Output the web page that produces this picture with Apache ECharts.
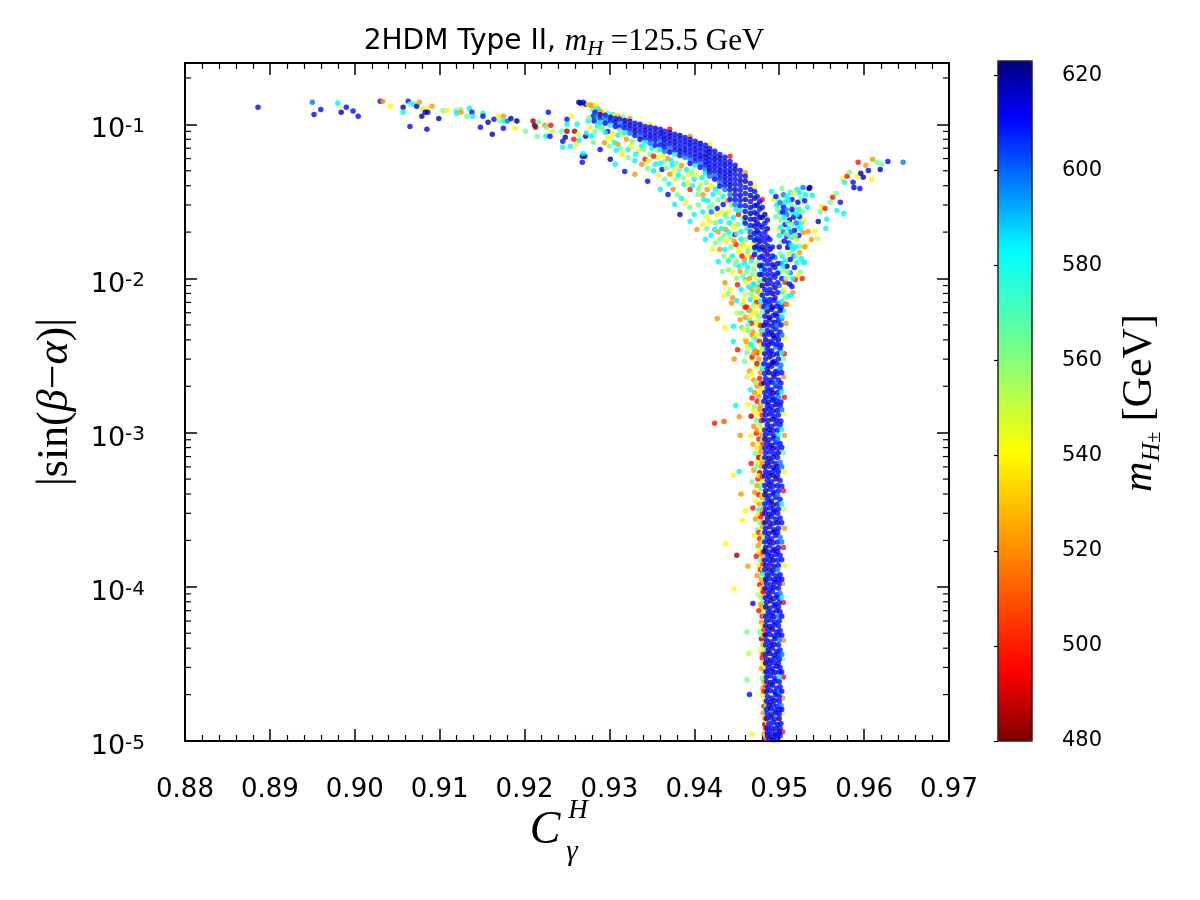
<!DOCTYPE html>
<html>
<head>
<meta charset="utf-8">
<title>2HDM Type II scan</title>
<script src="https://cdn.jsdelivr.net/npm/echarts@6/dist/echarts.min.js"></script>
<style>
  html, body { margin: 0; padding: 0; background: #fff; }
  #chart { width: 1200px; height: 900px; }
</style>
</head>
<body>
<div id="chart"></div>
<script>
// Scan points: [C_gamma^H, |sin(beta-alpha)|, m_H+- (GeV)].

// sparse tail on the upper left
const tailPts = [
  [0.8886,0.129,610],[0.8950,0.139,598],[0.8952,0.116,610],[0.8960,0.125,610],[0.8980,0.137,584],
  [0.8984,0.120,619],[0.8990,0.129,610],[0.8998,0.122,610],[0.9004,0.113,610],[0.9030,0.141,610],
  [0.9033,0.141,522],[0.9042,0.131,540],[0.9057,0.129,619],[0.9057,0.120,584],[0.9063,0.141,610],
  [0.9065,0.135,563],[0.9069,0.135,584],[0.9073,0.131,619],[0.9076,0.139,522],[0.9080,0.125,551],
  [0.9085,0.127,540],[0.9091,0.131,522],[0.9065,0.097,610],[0.9079,0.113,619],[0.9083,0.120,619],
  [0.9086,0.120,619],[0.9085,0.0928,610],[0.9099,0.109,619],[0.9104,0.123,563],[0.9109,0.123,540],
  [0.9119,0.123,563],[0.9120,0.118,584],[0.9125,0.125,563],[0.9125,0.120,522],[0.9132,0.113,563],
  [0.9135,0.127,584],[0.9138,0.120,610],[0.9139,0.113,584],[0.9148,0.0956,610],[0.9151,0.118,584],
  [0.9151,0.113,610],[0.9157,0.103,619],[0.9162,0.0861,619],[0.9164,0.108,610],[0.9169,0.113,540],
  [0.9171,0.105,563],[0.9175,0.113,522],[0.9175,0.0942,610],[0.9176,0.105,584],[0.9180,0.105,598],
  [0.9184,0.109,619],[0.9189,0.0942,540],[0.9190,0.106,563],[0.9191,0.105,619],[0.9201,0.0901,563],
  [0.9210,0.105,484],[0.9212,0.0985,619],[0.9213,0.0956,484],[0.9215,0.0836,563],[0.9216,0.103,563],
  [0.9224,0.0985,522],[0.9225,0.0836,584],[0.9226,0.0956,563],[0.9228,0.120,610],[0.9230,0.0836,610],
  [0.9231,0.0985,498],[0.9233,0.0901,551],[0.9244,0.0901,563],[0.9245,0.0776,610],[0.9245,0.0709,584],
  [0.9248,0.0824,619],[0.9250,0.0901,484],[0.9250,0.108,610],[0.9250,0.100,584],[0.9254,0.0720,584],
  [0.9255,0.113,540],[0.9258,0.0799,498],[0.9259,0.0901,484],[0.9261,0.0742,540],[0.9262,0.100,584],
  [0.9263,0.0861,551],[0.9264,0.0788,584],[0.9268,0.0620,619],[0.9271,0.0620,619],[0.9268,0.0567,610],
  [0.9269,0.0648,584],[0.9272,0.0836,619],[0.9275,0.105,584],[0.9279,0.0836,584],[0.9281,0.113,619],
  [0.9281,0.0764,563],
  [0.9264,0.139,619],[0.9266,0.137,619],[0.9269,0.139,610],[0.9272,0.135,619],[0.9275,0.135,540],
  [0.9278,0.133,522],[0.9281,0.131,522],[0.9284,0.133,540]
];

// mixed points round the start of the arch
const archTop = [
  [0.9280,0.124,563],[0.9286,0.126,584],[0.9292,0.120,540],[0.9298,0.118,563],[0.9304,0.116,584],
  [0.9310,0.113,522],[0.9316,0.111,563],[0.9286,0.098,584],[0.9292,0.094,563],[0.9298,0.090,610],
  [0.9304,0.087,540],[0.9310,0.085,584],[0.9276,0.110,563],[0.9282,0.105,610],[0.9288,0.100,584],
  [0.9277,0.095,540],[0.9283,0.090,563],[0.9273,0.088,584]
];

// mixed-colour band under the arch
const archInner = [
  [0.9289,0.0956,563],[0.9295,0.0887,584],[0.9303,0.0799,540],[0.9310,0.0742,522],[0.9315,0.0861,551],
  [0.9322,0.0688,584],[0.9327,0.0776,563],[0.9334,0.0668,540],[0.9338,0.0720,584],[0.9342,0.0593,498],
  [0.9348,0.0638,563],[0.9354,0.0550,584],[0.9357,0.0611,540],[0.9362,0.0510,610],[0.9365,0.0575,563],
  [0.9371,0.0474,522],[0.9374,0.0542,584],[0.9378,0.0440,551],[0.9383,0.0510,563],[0.9388,0.0408,584],
  [0.9393,0.0474,540],[0.9395,0.0378,498],[0.9400,0.0440,584],[0.9404,0.0351,563],[0.9407,0.0408,551],
  [0.9411,0.0326,584],[0.9415,0.0378,522],[0.9418,0.0289,563],[0.9422,0.0351,584],[0.9426,0.0260,540],
  [0.9428,0.0326,563],[0.9431,0.0234,584],[0.9434,0.0302,610],[0.9437,0.0208,522],[0.9440,0.0272,540],
  [0.9443,0.0185,563],[0.9446,0.0249,584],[0.9449,0.0166,498],[0.9451,0.0224,563],[0.9454,0.0154,540],
  [0.9455,0.0202,584],[0.9459,0.0133,522],[0.9461,0.0179,563],[0.9463,0.0118,584],[0.9464,0.0159,540],
  [0.9468,0.0106,563],[0.9468,0.0137,498],[0.9471,0.0091,584],[0.9473,0.0123,551],[0.9475,0.0082,522],
  [0.9475,0.0106,563],[0.9477,0.0096,584],[0.9478,0.0079,540],
  [0.9289,0.0688,610],[0.9301,0.0593,619],[0.9307,0.0550,584],[0.9318,0.0495,610],[0.9330,0.0474,522],
  [0.9345,0.0427,610],[0.9360,0.0378,584],[0.9369,0.0351,610],[0.9377,0.0302,584],[0.9383,0.0260,619],
  [0.9395,0.0234,584],[0.9403,0.0208,522],[0.9413,0.0179,584],[0.9421,0.0154,540],[0.9428,0.0129,584],
  [0.9433,0.0111,563],[0.9436,0.0094,522],[0.9442,0.0085,540],
  [0.9436,0.0154,584],[0.9442,0.0137,540],[0.9448,0.0123,563],[0.9454,0.0111,522],[0.9460,0.00985,584],
  [0.9448,0.0193,610],[0.9456,0.0166,563],[0.9463,0.0143,540],[0.9469,0.0193,584],[0.9474,0.0166,563],
  [0.9451,0.0091,498],[0.9460,0.0079,551],[0.9466,0.0073,584],[0.9440,0.0114,563],[0.9468,0.0085,522],
  [0.9474,0.0073,551],[0.9430,0.0179,563],[0.9424,0.0208,584],[0.9418,0.0234,540],[0.9444,0.0224,551],
  [0.9436,0.0260,563],[0.9459,0.0234,584],[0.9466,0.0281,563],[0.9471,0.0224,522],
  [0.9298,0.0820,540],[0.9306,0.0760,584],[0.9313,0.0700,563],[0.9320,0.0800,522],[0.9326,0.0720,540],
  [0.9331,0.0640,584],[0.9337,0.0780,551],[0.9341,0.0690,563],[0.9346,0.0580,540],[0.9350,0.0700,584],
  [0.9352,0.0620,498],[0.9357,0.0680,563],[0.9360,0.0560,584],[0.9363,0.0630,540],[0.9367,0.0520,563],
  [0.9369,0.0600,522],[0.9373,0.0580,584],[0.9376,0.0500,540],[0.9379,0.0560,563],[0.9381,0.0470,584],
  [0.9385,0.0540,522],[0.9387,0.0450,563],[0.9391,0.0510,584],[0.9392,0.0420,540],[0.9397,0.0490,563],
  [0.9398,0.0400,584],[0.9402,0.0470,540],[0.9405,0.0380,563],[0.9409,0.0450,584],[0.9410,0.0350,522],
  [0.9414,0.0420,563],[0.9416,0.0320,584],[0.9420,0.0400,540],[0.9421,0.0300,563],[0.9425,0.0380,584],
  [0.9427,0.0285,610],[0.9429,0.0360,563],[0.9432,0.0270,540],[0.9434,0.0340,584],[0.9438,0.0250,563],
  [0.9439,0.0320,522],[0.9441,0.0230,584],[0.9444,0.0300,563],[0.9447,0.0215,540],[0.9449,0.0280,584],
  [0.9450,0.0195,563],[0.9452,0.0260,498],[0.9455,0.0180,584],[0.9457,0.0245,563],[0.9458,0.0165,540],
  [0.9462,0.0210,584],[0.9463,0.0150,563],[0.9465,0.0195,522],[0.9467,0.0130,584],[0.9469,0.0170,540],
  [0.9470,0.0115,563],[0.9472,0.0150,584],[0.9473,0.0100,540],[0.9476,0.0130,563],[0.9476,0.0088,522],
  [0.9479,0.0115,584],[0.9479,0.0080,563],[0.9481,0.0100,540],
  [0.9405,0.0300,563],[0.9410,0.0270,584],[0.9415,0.0250,540],[0.9420,0.0270,598],[0.9425,0.0230,563],
  [0.9428,0.0200,522],[0.9432,0.0210,584],[0.9435,0.0190,563],[0.9438,0.0175,540],[0.9440,0.0200,584],
  [0.9443,0.0160,563],[0.9445,0.0140,584],[0.9447,0.0175,522],[0.9450,0.0130,563],[0.9452,0.0150,540],
  [0.9453,0.0120,584],[0.9456,0.0140,498],[0.9457,0.0105,563],[0.9459,0.0125,584],[0.9461,0.0095,540],
  [0.9462,0.0112,563],[0.9464,0.0088,584],[0.9465,0.0100,522],[0.9467,0.0080,563],[0.9469,0.0092,584],
  [0.9470,0.0076,540],[0.9472,0.0085,563],[0.9473,0.0070,498],[0.9455,0.0085,584],[0.9450,0.0100,563],
  [0.9445,0.0110,540],[0.9440,0.0130,584],[0.9435,0.0140,563],[0.9430,0.0155,522],[0.9425,0.0170,563],
  [0.9420,0.0190,584],[0.9415,0.0210,563],[0.9410,0.0225,540],[0.9400,0.0260,584],[0.9395,0.0290,563],
  [0.9390,0.0310,540],[0.9385,0.0330,584],[0.9380,0.0350,563],[0.9375,0.0380,522],[0.9370,0.0410,584],
  [0.9365,0.0440,563],[0.9358,0.0470,540],[0.9352,0.0500,584],[0.9345,0.0520,563],[0.9338,0.0550,522],
  [0.9330,0.0580,584],[0.9322,0.0610,563],[0.9315,0.0640,540],[0.9308,0.0680,584],[0.9300,0.0720,563],
  [0.9294,0.0760,522],
  [0.9440,0.0080,563],[0.9445,0.0075,522],[0.9450,0.0072,584],[0.9435,0.0078,540],[0.9458,0.0068,563],
  [0.9462,0.0065,498],[0.9466,0.0062,584],[0.9470,0.0060,540],[0.9455,0.0060,563],[0.9460,0.0056,522],
  [0.9465,0.0054,584],[0.9470,0.0052,563],[0.9474,0.0050,540],[0.9456,0.0048,584],[0.9463,0.0046,563],
  [0.9468,0.0043,522],[0.9473,0.0040,584],[0.9460,0.0040,540],[0.9465,0.0037,563],[0.9470,0.0035,584],
  [0.9475,0.0033,498],[0.9462,0.0033,563],[0.9468,0.0030,540],[0.9473,0.0028,584]
];

// thin orange/yellow rim on the outside of the arch
const archEdge = [
  [0.9289,0.122,522],[0.9307,0.114,540],[0.9324,0.109,522],[0.9348,0.100,540],[0.9371,0.0928,498],
  [0.9395,0.0836,522],[0.9418,0.0742,540],[0.9442,0.0620,498],[0.9460,0.0488,522],[0.9471,0.0396,540],
  [0.9480,0.0326,498]
];

// dense blue arch
const archCore = [
  [0.9283,0.120,610],[0.9283,0.113,598],
  [0.9289,0.116,619],[0.9289,0.109,610],[0.9289,0.103,584],
  [0.9295,0.1144,610],[0.9295,0.1078,598],[0.9295,0.1015,610],
  [0.9301,0.111,619],[0.9301,0.1046,610],[0.9301,0.0985,584],
  [0.9307,0.109,610],[0.9307,0.103,619],[0.9307,0.097,610],
  [0.9312,0.1078,610],[0.9312,0.1015,598],[0.9312,0.0956,610],[0.9312,0.0914,563],
  [0.9318,0.106,619],[0.9318,0.100,610],[0.9318,0.0942,610],[0.9318,0.0887,584],
  [0.9324,0.1046,610],[0.9324,0.0985,619],[0.9324,0.0928,610],[0.9324,0.0874,598],
  [0.9330,0.1015,610],[0.9330,0.0956,610],[0.9330,0.0901,619],[0.9330,0.0848,610],
  [0.9336,0.100,619],[0.9336,0.0942,610],[0.9336,0.0887,610],[0.9336,0.0836,598],[0.9336,0.0799,610],
  [0.9342,0.097,610],[0.9342,0.0914,619],[0.9342,0.0861,610],[0.9342,0.0811,610],[0.9342,0.0764,584],
  [0.9348,0.0956,610],[0.9348,0.0901,610],[0.9348,0.0848,619],[0.9348,0.0799,610],[0.9348,0.0753,598],
  [0.9354,0.0942,619],[0.9354,0.0887,610],[0.9354,0.0836,610],[0.9354,0.0788,610],[0.9354,0.0731,610],
  [0.9360,0.0928,610],[0.9360,0.0874,619],[0.9360,0.0823,610],[0.9360,0.0776,598],[0.9360,0.0731,610],[0.9360,0.0688,584],
  [0.9365,0.0901,610],[0.9365,0.0848,610],[0.9365,0.0799,619],[0.9365,0.0753,610],[0.9365,0.0709,610],[0.9365,0.0668,598],
  [0.9371,0.0887,610],[0.9371,0.0836,619],[0.9371,0.0788,610],[0.9371,0.0742,610],[0.9371,0.0698,598],[0.9371,0.0658,610],
  [0.9377,0.0861,610],[0.9377,0.0811,610],[0.9377,0.0764,619],[0.9377,0.0720,610],[0.9377,0.0678,610],[0.9377,0.0638,584],
  [0.9383,0.0848,619],[0.9383,0.0799,610],[0.9383,0.0753,610],[0.9383,0.0709,610],[0.9383,0.0668,619],[0.9383,0.0629,610],
  [0.9389,0.0823,610],[0.9389,0.0776,610],[0.9389,0.0731,610],[0.9389,0.0688,619],[0.9389,0.0648,610],[0.9389,0.0611,598],
  [0.9395,0.0799,610],[0.9395,0.0753,619],[0.9395,0.0709,610],[0.9395,0.0668,610],[0.9395,0.0629,610],[0.9395,0.0593,598],[0.9395,0.0558,610],
  [0.9401,0.0776,610],[0.9401,0.0731,610],[0.9401,0.0688,619],[0.9401,0.0648,610],[0.9401,0.0611,610],[0.9401,0.0575,610],[0.9401,0.0542,584],
  [0.9407,0.0753,619],[0.9407,0.0709,610],[0.9407,0.0668,610],[0.9407,0.0629,619],[0.9407,0.0593,610],[0.9407,0.0558,598],[0.9407,0.0526,610],
  [0.9413,0.0731,610],[0.9413,0.0688,610],[0.9413,0.0648,610],[0.9413,0.0611,619],[0.9413,0.0575,610],[0.9413,0.0542,610],[0.9413,0.0510,598],[0.9413,0.0481,584],
  [0.9418,0.0698,610],[0.9418,0.0658,619],[0.9418,0.0620,610],[0.9418,0.0584,610],[0.9418,0.0550,610],[0.9418,0.0518,619],[0.9418,0.0488,610],[0.9418,0.0460,598],
  [0.9424,0.0668,610],[0.9424,0.0629,610],[0.9424,0.0593,619],[0.9424,0.0558,610],[0.9424,0.0526,610],[0.9424,0.0495,610],[0.9424,0.0466,598],[0.9424,0.0440,610],
  [0.9430,0.0638,610],[0.9430,0.0602,619],[0.9430,0.0567,610],[0.9430,0.0534,610],[0.9430,0.0502,619],[0.9430,0.0474,610],[0.9430,0.0446,610],[0.9430,0.0421,598],[0.9430,0.0396,610],
  [0.9436,0.0611,610],[0.9436,0.0575,610],[0.9436,0.0542,619],[0.9436,0.0510,610],[0.9436,0.0481,610],[0.9436,0.0453,619],[0.9436,0.0427,610],[0.9436,0.0402,610],[0.9436,0.0378,598],
  [0.9442,0.0575,610],[0.9442,0.0542,610],[0.9442,0.0510,610],[0.9442,0.0481,619],[0.9442,0.0453,610],[0.9442,0.0427,610],[0.9442,0.0402,619],[0.9442,0.0378,610],[0.9442,0.0351,598],[0.9442,0.0326,610],
  [0.9448,0.0542,610],[0.9448,0.0510,619],[0.9448,0.0474,610],[0.9448,0.0440,610],[0.9448,0.0408,610],[0.9448,0.0378,619],[0.9448,0.0351,610],[0.9448,0.0326,610],[0.9448,0.0302,598],
  [0.9454,0.0502,610],[0.9454,0.0466,610],[0.9454,0.0433,619],[0.9454,0.0402,610],[0.9454,0.0373,610],[0.9454,0.0346,619],[0.9454,0.0321,610],[0.9454,0.0297,610],[0.9454,0.0276,584],
  [0.9460,0.0460,610],[0.9460,0.0427,619],[0.9460,0.0390,610],[0.9460,0.0356,610],[0.9460,0.0326,619],[0.9460,0.0297,610],[0.9460,0.0272,610],[0.9460,0.0249,619],[0.9460,0.0228,610],
  [0.9466,0.0414,610],[0.9466,0.0378,610],[0.9466,0.0346,619],[0.9466,0.0316,610],[0.9466,0.0289,610],[0.9466,0.0264,619],[0.9466,0.0242,610],[0.9466,0.0221,610],[0.9466,0.0202,598],[0.9466,0.0185,610],
  [0.9471,0.0367,610],[0.9471,0.0331,619],[0.9471,0.0297,610],[0.9471,0.0268,610],[0.9471,0.0242,619],[0.9471,0.0218,610],[0.9471,0.0196,610],[0.9471,0.0177,610],[0.9471,0.0159,619],[0.9471,0.0143,610],
  [0.9477,0.0316,610],[0.9477,0.0281,610],[0.9477,0.0249,619],[0.9477,0.0221,610],[0.9477,0.0196,610],[0.9477,0.0174,619],[0.9477,0.0154,610],[0.9477,0.0137,610],[0.9477,0.0121,619],[0.9477,0.0106,610],
  [0.9483,0.0260,619],[0.9483,0.0228,610],[0.9483,0.0199,610],[0.9483,0.0174,610],[0.9483,0.0152,619],[0.9483,0.0133,610],[0.9483,0.0114,610],[0.9483,0.00985,619],[0.9483,0.00848,610],[0.9483,0.00731,610],
  [0.9489,0.0179,610],[0.9489,0.0154,619],[0.9489,0.0133,610],[0.9489,0.0114,610],[0.9489,0.00985,619],[0.9489,0.00848,610],[0.9489,0.00731,610],
  [0.9495,0.0137,598],[0.9495,0.0118,610],[0.9495,0.0102,610],[0.9495,0.0087,619],[0.9495,0.0075,610],
  [0.9486,0.0240,610],[0.9486,0.0210,619],[0.9486,0.0185,610],[0.9486,0.0163,610],[0.9486,0.0143,619],
  [0.9486,0.0124,610],[0.9486,0.0106,610],[0.9486,0.0092,619],[0.9486,0.0080,610],
  [0.9492,0.0160,610],[0.9492,0.0140,610],[0.9492,0.0123,619],[0.9492,0.0106,610],[0.9492,0.0092,610],[0.9492,0.0080,619],
  [0.9498,0.0125,610],[0.9498,0.0108,619],[0.9498,0.0094,610],[0.9498,0.0081,610],
  [0.9480,0.0290,610],[0.9480,0.0250,619],[0.9480,0.0215,610],[0.9480,0.0185,610],[0.9480,0.0160,619],
  [0.9480,0.0140,610],[0.9480,0.0122,610],[0.9480,0.0106,610],[0.9480,0.0090,619],[0.9480,0.0078,610],
  [0.9474,0.0340,610],[0.9474,0.0300,619],[0.9474,0.0262,610],[0.9474,0.0230,610],[0.9474,0.0205,619],
  [0.9474,0.0182,610],[0.9474,0.0162,610]
];

// lobe on the right of the column top
const rightLobe = [
  [0.9491,0.0367,584],[0.9503,0.0384,563],[0.9513,0.0362,584],[0.9521,0.0378,584],[0.9528,0.0390,598],
  [0.9535,0.0384,619],[0.9493,0.0326,540],[0.9499,0.0326,563],[0.9507,0.0312,584],[0.9515,0.0326,610],
  [0.9522,0.0312,619],[0.9501,0.0268,584],[0.9509,0.0260,598],[0.9516,0.0268,584],[0.9524,0.0252,610],
  [0.9507,0.0224,610],[0.9515,0.0224,563],[0.9522,0.0218,584],[0.9509,0.0188,610],[0.9515,0.0185,584],
  [0.9521,0.0179,551],[0.9510,0.0159,619],[0.9516,0.0154,584],[0.9524,0.0147,522],[0.9513,0.0133,610],
  [0.9521,0.0127,584],[0.9528,0.0127,584],[0.9513,0.0109,598],[0.9519,0.00985,498],[0.9515,0.00886,610],
  [0.9510,0.00763,584],[0.9516,0.00812,522],[0.9530,0.0127,584],[0.9524,0.0162,563],[0.9528,0.0199,522],
  [0.9496,0.0252,563],[0.9499,0.0208,540],[0.9503,0.0171,563],[0.9504,0.0139,584],[0.9506,0.0114,551],
  [0.9507,0.00941,498],[0.9505,0.0290,610],[0.9512,0.0240,619],[0.9518,0.0205,610],[0.9505,0.0200,598],
  [0.9511,0.0170,610],[0.9517,0.0140,598],[0.9509,0.0120,619],[0.9505,0.0350,598],[0.9518,0.0290,563],
  [0.9526,0.0230,584],[0.9500,0.0160,610],[0.9502,0.0125,598],[0.9503,0.0100,610],[0.9504,0.0082,584],
  [0.9497,0.0300,584],[0.9502,0.0240,563],[0.9508,0.0280,598],[0.9511,0.0210,584],[0.9514,0.0300,563],
  [0.9517,0.0250,610],[0.9520,0.0230,598],[0.9523,0.0280,584],[0.9526,0.0330,563],[0.9531,0.0350,584],
  [0.9500,0.0190,584],[0.9506,0.0175,610],[0.9512,0.0190,563],[0.9519,0.0160,584],[0.9523,0.0190,610],
  [0.9501,0.0145,563],[0.9507,0.0130,584],[0.9512,0.0145,551],[0.9518,0.0118,610],[0.9525,0.0110,563],
  [0.9500,0.0110,584],[0.9508,0.0100,563],[0.9512,0.0092,610],[0.9506,0.0085,540],[0.9500,0.0090,598],
  [0.9509,0.0340,584],[0.9517,0.0360,540],[0.9524,0.0360,584],[0.9530,0.0160,522],[0.9527,0.0100,498],
  [0.9496,0.0340,610],[0.9501,0.0310,598],[0.9506,0.0250,584],[0.9510,0.0230,563],[0.9514,0.0200,598],
  [0.9519,0.0190,563],[0.9525,0.0210,584],[0.9529,0.0240,540],[0.9533,0.0290,584],[0.9530,0.0320,610],
  [0.9527,0.0270,563],[0.9521,0.0260,584],[0.9515,0.0280,610],[0.9511,0.0320,584],[0.9504,0.0270,610],
  [0.9498,0.0280,563],[0.9502,0.0215,584],[0.9508,0.0195,563],[0.9514,0.0165,584],[0.9520,0.0140,563],
  [0.9526,0.0135,584],[0.9522,0.0105,540],[0.9516,0.0100,584],[0.9510,0.0110,563],[0.9504,0.0120,584],
  [0.9507,0.0075,563],[0.9514,0.0078,584],[0.9509,0.0068,522],[0.9505,0.0062,584]
];

// branch rising to the right
const rightBranch = [
  [0.9534,0.0202,522],[0.9542,0.0202,540],[0.9545,0.0181,551],[0.9546,0.0234,619],[0.9550,0.0293,540],
  [0.9554,0.0285,498],[0.9555,0.0211,584],[0.9556,0.0242,584],[0.9560,0.0312,563],[0.9563,0.0336,498],
  [0.9567,0.0356,563],[0.9568,0.0276,584],[0.9572,0.0312,610],[0.9576,0.0264,584],[0.9575,0.0440,540],
  [0.9577,0.0421,584],[0.9580,0.0460,498],[0.9583,0.0488,563],[0.9587,0.0421,610],[0.9588,0.0390,619],
  [0.9592,0.0460,540],[0.9593,0.0567,498],[0.9595,0.0384,610],[0.9596,0.0481,619],[0.9599,0.0453,619],
  [0.9602,0.0542,522],[0.9605,0.0502,610],[0.9609,0.0440,540],[0.9610,0.0593,522],[0.9615,0.0567,563],
  [0.9619,0.0510,619],[0.9621,0.0550,563],[0.9628,0.0575,610],[0.9646,0.0567,598],[0.9536,0.0390,619],
  [0.9539,0.0346,584],[0.9532,0.0164,540],[0.9538,0.0179,522],[0.9548,0.0272,563]
];

// mixed points on the left/right of the vertical column
const colFringe = [
  [0.9444,6.9e-3,522],[0.9458,7.2e-3,540],[0.9470,6.7e-3,563],[0.9478,7.1e-3,584],[0.9507,6.8e-3,498],
  [0.9450,6.0e-3,551],[0.9464,6.2e-3,522],[0.9473,5.9e-3,540],[0.9480,6.1e-3,563],
  [0.9454,5.4e-3,522],[0.9467,5.1e-3,498],[0.9476,5.3e-3,551],[0.9508,5.1e-3,522],
  [0.9458,4.7e-3,540],[0.9469,4.5e-3,522],[0.9479,4.6e-3,584],
  [0.9461,3.9e-3,522],[0.9470,4.1e-3,563],[0.9477,3.9e-3,498],[0.9506,4.1e-3,540],
  [0.9463,3.6e-3,540],[0.9472,3.4e-3,522],[0.9480,3.5e-3,563],
  [0.9459,2.9e-3,563],[0.9468,3.1e-3,498],[0.9476,3.0e-3,522],[0.9505,3.0e-3,563],
  [0.9465,2.5e-3,522],[0.9473,2.7e-3,540],[0.9480,2.6e-3,584],
  [0.9462,2.3e-3,551],[0.9470,2.2e-3,522],[0.9477,2.25e-3,498],[0.9505,2.3e-3,522],
  [0.9466,1.9e-3,584],[0.9474,2.0e-3,522],[0.9480,1.95e-3,540],
  [0.9468,1.68e-3,498],[0.9476,1.72e-3,522],[0.9506,1.7e-3,498],
  [0.9463,1.52e-3,540],[0.9471,1.48e-3,563],[0.9478,1.5e-3,522],
  [0.9467,1.28e-3,484],[0.9474,1.32e-3,540],[0.9480,1.3e-3,498],[0.9505,1.32e-3,540],
  [0.9470,1.1e-3,522],[0.9477,1.14e-3,563],
  [0.9466,9.6e-4,540],[0.9473,9.9e-4,498],[0.9480,9.7e-4,522],[0.9506,9.6e-4,522],
  [0.9469,8.4e-4,522],[0.9476,8.6e-4,551],[0.9481,8.5e-4,498],
  [0.9472,7.3e-4,563],[0.9478,7.5e-4,522],[0.9505,7.4e-4,563],
  [0.9467,6.3e-4,498],[0.9474,6.5e-4,540],[0.9480,6.4e-4,522],
  [0.9470,5.7e-4,522],[0.9477,5.5e-4,484],[0.9506,5.6e-4,540],
  [0.9468,4.8e-4,563],[0.9475,5.0e-4,498],[0.9481,4.9e-4,540],
  [0.9471,4.1e-4,522],[0.9478,4.3e-4,563],[0.9505,4.2e-4,498],
  [0.9473,3.6e-4,540],[0.9480,3.8e-4,522],
  [0.9469,3.25e-4,498],[0.9476,3.15e-4,584],[0.9481,3.2e-4,522],[0.9505,3.2e-4,551],
  [0.9472,2.75e-4,522],[0.9478,2.85e-4,498],
  [0.9474,2.35e-4,563],[0.9480,2.45e-4,522],[0.9506,2.4e-4,522],
  [0.9471,2.15e-4,540],[0.9477,2.05e-4,498],[0.9482,2.1e-4,551],
  [0.9475,1.85e-4,522],[0.9480,1.75e-4,563],[0.9505,1.8e-4,498],
  [0.9473,1.58e-4,498],[0.9479,1.62e-4,522],
  [0.9476,1.36e-4,540],[0.9481,1.4e-4,498],[0.9506,1.38e-4,540],
  [0.9474,1.18e-4,522],[0.9480,1.22e-4,584],
  [0.9477,1.03e-4,498],[0.9482,1.07e-4,522],[0.9504,1.05e-4,522],
  [0.9475,8.9e-5,551],[0.9481,9.3e-5,484],
  [0.9478,7.7e-5,522],[0.9482,8.1e-5,563],[0.9505,7.9e-5,498],
  [0.9476,7.0e-5,498],[0.9482,6.8e-5,540],
  [0.9479,5.9e-5,522],[0.9504,6.1e-5,540],
  [0.9477,5.1e-5,563],[0.9482,5.3e-5,498],
  [0.9479,4.6e-5,484],[0.9483,4.4e-5,522],[0.9505,4.5e-5,522],
  [0.9478,3.8e-5,540],[0.9483,4.0e-5,563],
  [0.9480,3.45e-5,498],[0.9504,3.4e-5,563],
  [0.9479,2.95e-5,522],[0.9483,3.05e-5,540],
  [0.9480,2.55e-5,563],[0.9505,2.6e-5,498],
  [0.9481,2.2e-5,522],[0.9484,2.3e-5,498],
  [0.9480,2.0e-5,540],[0.9504,1.9e-5,522],
  [0.9482,1.68e-5,498],[0.9485,1.72e-5,563],
  [0.9481,1.52e-5,522],[0.9504,1.5e-5,540],
  [0.9483,1.28e-5,484],[0.9486,1.32e-5,540],
  [0.9482,1.11e-5,522],[0.9504,1.15e-5,498],
  [0.9484,1.04e-5,498],
  [0.9472,6.55e-3,540],[0.9479,6.6e-3,522],[0.9460,6.5e-3,498],[0.9476,5.7e-3,563],[0.9466,5.65e-3,540],
  [0.9478,4.95e-3,498],[0.9463,5.0e-3,563],[0.9474,4.3e-3,540],[0.9480,4.35e-3,522],[0.9467,3.75e-3,584],
  [0.9478,3.7e-3,540],[0.9470,3.25e-3,522],[0.9479,3.3e-3,551],[0.9506,3.25e-3,498],[0.9474,2.8e-3,498],
  [0.9479,2.75e-3,563],[0.9468,2.42e-3,540],[0.9478,2.45e-3,522],[0.9473,2.1e-3,563],[0.9479,2.08e-3,498],
  [0.9471,1.82e-3,522],[0.9478,1.85e-3,540],[0.9474,1.6e-3,498],[0.9479,1.58e-3,563],[0.9470,1.4e-3,540],
  [0.9477,1.42e-3,522],[0.9473,1.21e-3,563],[0.9479,1.2e-3,498],[0.9474,1.04e-3,522],[0.9479,1.05e-3,540],
  [0.9476,9.1e-4,498],[0.9480,9.0e-4,563],[0.9473,7.95e-4,540],[0.9479,8.0e-4,522],[0.9476,6.9e-4,484],
  [0.9480,6.85e-4,540],[0.9473,6.0e-4,563],[0.9479,6.05e-4,522],[0.9476,5.25e-4,540],[0.9480,5.2e-4,498],
  [0.9474,4.55e-4,522],[0.9479,4.6e-4,563],[0.9476,3.95e-4,498],[0.9480,3.9e-4,540],[0.9477,3.45e-4,522],
  [0.9480,3.5e-4,563],[0.9475,3.0e-4,540],[0.9480,2.97e-4,498],[0.9477,2.6e-4,563],[0.9481,2.62e-4,522],
  [0.9476,2.25e-4,498],[0.9480,2.23e-4,540],[0.9478,1.95e-4,522],[0.9481,1.97e-4,563],[0.9477,1.7e-4,540],
  [0.9481,1.68e-4,498],[0.9478,1.49e-4,563],[0.9481,1.5e-4,522],[0.9478,1.29e-4,498],[0.9481,1.3e-4,540],
  [0.9479,1.12e-4,522],[0.9482,1.13e-4,563],[0.9479,9.8e-5,540],[0.9482,9.7e-5,498],[0.9479,8.5e-5,563],
  [0.9482,8.6e-5,522],[0.9480,7.4e-5,522],[0.9482,7.3e-5,540],[0.9480,6.45e-5,498],[0.9483,6.5e-5,563],
  [0.9480,5.6e-5,540],[0.9483,5.55e-5,522],[0.9480,4.85e-5,563],[0.9483,4.9e-5,498],[0.9481,4.2e-5,522],
  [0.9483,4.15e-5,540],[0.9481,3.65e-5,498],[0.9484,3.7e-5,563],[0.9481,3.2e-5,540],[0.9484,3.18e-5,522],
  [0.9482,2.8e-5,563],[0.9484,2.82e-5,498],[0.9482,2.42e-5,522],[0.9484,2.4e-5,540],[0.9482,2.1e-5,498],
  [0.9485,2.12e-5,563],[0.9483,1.82e-5,540],[0.9485,1.8e-5,522],[0.9483,1.6e-5,563],[0.9483,1.4e-5,522],
  [0.9484,1.21e-5,498],[0.9484,1.08e-5,540]
];

// stray points left of the column
const colOutliers = [
  [0.9427,5.5e-3,522],[0.9436,4.8e-3,540],[0.9446,4.9e-3,584],[0.9446,3.9e-3,584],[0.9451,3.45e-3,498],
  [0.9447,3.0e-3,522],[0.9424,1.15e-3,498],[0.9435,1.18e-3,510],[0.9449,1.5e-3,584],[0.9453,1.27e-3,522],
  [0.9454,9.6e-4,522],[0.9446,5.3e-4,540],[0.9453,5.6e-4,584],[0.9455,4.0e-4,522],[0.9460,3.1e-4,540],
  [0.9457,2.7e-4,540],[0.9437,1.9e-4,540],[0.9450,1.6e-4,484],[0.9463,1.36e-4,522],[0.9447,9.7e-5,540],
  [0.9469,7.8e-5,610],[0.9462,5.1e-5,563],[0.9464,3.7e-5,551],[0.9462,2.5e-5,563],[0.9465,2.0e-5,610],
  [0.9468,1.1e-5,540]
];

// blue core of the vertical column
const colCore = [
  [0.9484,7.0e-3,610],[0.9489,6.8e-3,619],[0.9494,7.2e-3,610],[0.9499,6.9e-3,598],[0.9503,7.1e-3,584],
  [0.9486,6.1e-3,619],[0.9491,6.3e-3,610],[0.9496,5.9e-3,610],[0.9501,6.2e-3,619],
  [0.9484,5.2e-3,610],[0.9489,5.4e-3,610],[0.9494,5.2e-3,619],[0.9499,5.3e-3,610],[0.9503,5.5e-3,598],
  [0.9486,4.6e-3,610],[0.9491,4.5e-3,619],[0.9496,4.7e-3,610],[0.9501,4.5e-3,610],
  [0.9484,4.0e-3,619],[0.9489,3.9e-3,610],[0.9494,4.1e-3,610],[0.9499,4.0e-3,619],
  [0.9486,3.5e-3,610],[0.9491,3.4e-3,610],[0.9496,3.6e-3,598],[0.9501,3.5e-3,610],
  [0.9484,3.0e-3,610],[0.9489,3.1e-3,619],[0.9494,2.9e-3,610],[0.9499,3.0e-3,610],
  [0.9486,2.6e-3,619],[0.9491,2.7e-3,610],[0.9496,2.5e-3,610],[0.9501,2.6e-3,598],
  [0.9484,2.25e-3,610],[0.9489,2.2e-3,610],[0.9494,2.3e-3,619],[0.9499,2.2e-3,610],
  [0.9486,1.95e-3,610],[0.9491,1.9e-3,619],[0.9496,2.0e-3,610],[0.9501,1.95e-3,610],
  [0.9484,1.7e-3,619],[0.9489,1.72e-3,610],[0.9494,1.66e-3,610],[0.9499,1.7e-3,598],
  [0.9486,1.5e-3,610],[0.9491,1.48e-3,610],[0.9496,1.52e-3,619],[0.9501,1.5e-3,610],
  [0.9484,1.3e-3,610],[0.9489,1.32e-3,619],[0.9494,1.28e-3,610],[0.9499,1.3e-3,610],
  [0.9486,1.12e-3,619],[0.9491,1.1e-3,610],[0.9496,1.14e-3,610],[0.9501,1.12e-3,610],
  [0.9484,9.7e-4,610],[0.9489,9.9e-4,610],[0.9494,9.5e-4,619],[0.9499,9.7e-4,584],
  [0.9486,8.5e-4,610],[0.9491,8.3e-4,619],[0.9496,8.6e-4,610],[0.9501,8.5e-4,610],
  [0.9484,7.4e-4,610],[0.9489,7.5e-4,610],[0.9494,7.3e-4,610],[0.9499,7.4e-4,619],
  [0.9486,6.4e-4,619],[0.9491,6.5e-4,610],[0.9496,6.3e-4,610],[0.9501,6.4e-4,598],
  [0.9484,5.6e-4,610],[0.9489,5.5e-4,619],[0.9494,5.7e-4,610],[0.9499,5.6e-4,610],
  [0.9486,4.9e-4,610],[0.9491,4.8e-4,610],[0.9496,5.0e-4,619],[0.9501,4.9e-4,610],
  [0.9484,4.2e-4,619],[0.9489,4.3e-4,610],[0.9494,4.1e-4,610],[0.9499,4.2e-4,610],
  [0.9486,3.7e-4,610],[0.9491,3.6e-4,619],[0.9496,3.8e-4,610],[0.9501,3.7e-4,610],
  [0.9484,3.2e-4,610],[0.9489,3.25e-4,610],[0.9494,3.15e-4,619],[0.9499,3.2e-4,610],
  [0.9486,2.8e-4,619],[0.9491,2.85e-4,610],[0.9496,2.75e-4,610],[0.9501,2.8e-4,610],
  [0.9484,2.4e-4,610],[0.9489,2.45e-4,619],[0.9494,2.35e-4,610],[0.9499,2.4e-4,610],
  [0.9486,2.1e-4,610],[0.9491,2.05e-4,610],[0.9496,2.15e-4,619],[0.9501,2.1e-4,598],
  [0.9484,1.8e-4,619],[0.9489,1.85e-4,610],[0.9494,1.75e-4,610],[0.9499,1.8e-4,610],
  [0.9486,1.6e-4,610],[0.9491,1.58e-4,619],[0.9496,1.62e-4,610],[0.9501,1.6e-4,610],
  [0.9484,1.38e-4,610],[0.9489,1.4e-4,610],[0.9494,1.36e-4,619],[0.9499,1.38e-4,610],
  [0.9486,1.2e-4,619],[0.9491,1.22e-4,610],[0.9496,1.18e-4,610],[0.9501,1.2e-4,610],
  [0.9485,1.05e-4,610],[0.9490,1.03e-4,610],[0.9495,1.07e-4,619],[0.9500,1.05e-4,610],
  [0.9487,9.1e-5,619],[0.9492,9.3e-5,610],[0.9497,8.9e-5,610],[0.9501,9.1e-5,598],
  [0.9485,7.9e-5,610],[0.9490,8.1e-5,619],[0.9495,7.7e-5,610],[0.9500,7.9e-5,610],
  [0.9487,6.9e-5,610],[0.9492,6.8e-5,610],[0.9497,7.0e-5,619],[0.9501,6.9e-5,610],
  [0.9485,6.0e-5,619],[0.9490,6.1e-5,610],[0.9495,5.9e-5,610],[0.9500,6.0e-5,610],
  [0.9487,5.2e-5,610],[0.9492,5.3e-5,619],[0.9497,5.1e-5,610],[0.9501,5.2e-5,610],
  [0.9485,4.5e-5,610],[0.9490,4.4e-5,610],[0.9495,4.6e-5,619],[0.9500,4.5e-5,598],
  [0.9487,3.9e-5,619],[0.9492,4.0e-5,610],[0.9497,3.8e-5,610],[0.9501,3.9e-5,610],
  [0.9485,3.4e-5,610],[0.9490,3.35e-5,619],[0.9495,3.45e-5,610],[0.9500,3.4e-5,610],
  [0.9487,3.0e-5,610],[0.9492,2.95e-5,610],[0.9497,3.05e-5,619],[0.9501,3.0e-5,610],
  [0.9485,2.6e-5,619],[0.9490,2.65e-5,610],[0.9495,2.55e-5,610],[0.9500,2.6e-5,584],
  [0.9487,2.25e-5,610],[0.9492,2.3e-5,619],[0.9497,2.2e-5,610],[0.9501,2.25e-5,610],
  [0.9486,1.95e-5,610],[0.9491,1.9e-5,610],[0.9496,2.0e-5,619],[0.9500,1.95e-5,610],
  [0.9488,1.7e-5,619],[0.9493,1.72e-5,610],[0.9498,1.68e-5,610],[0.9502,1.7e-5,598],
  [0.9486,1.5e-5,610],[0.9491,1.48e-5,619],[0.9496,1.52e-5,610],[0.9500,1.5e-5,610],
  [0.9488,1.3e-5,610],[0.9493,1.32e-5,610],[0.9498,1.28e-5,619],[0.9502,1.3e-5,610],
  [0.9486,1.13e-5,619],[0.9491,1.15e-5,610],[0.9496,1.11e-5,610],[0.9500,1.13e-5,610],
  [0.9488,1.03e-5,610],[0.9493,1.02e-5,619],[0.9498,1.04e-5,610],
  [0.9482,6.55e-3,610],[0.9487,6.6e-3,598],[0.9492,6.5e-3,619],[0.9497,6.6e-3,610],[0.9502,6.5e-3,610],
  [0.9483,5.7e-3,610],[0.9488,5.6e-3,619],[0.9493,5.75e-3,610],[0.9498,5.7e-3,610],[0.9503,5.65e-3,584],
  [0.9482,4.95e-3,619],[0.9487,5.0e-3,610],[0.9492,4.9e-3,610],[0.9497,4.95e-3,598],[0.9502,5.0e-3,610],
  [0.9483,4.3e-3,610],[0.9488,4.35e-3,610],[0.9493,4.25e-3,619],[0.9498,4.3e-3,610],[0.9503,4.3e-3,598],
  [0.9482,3.75e-3,610],[0.9487,3.7e-3,619],[0.9492,3.8e-3,610],[0.9497,3.75e-3,610],[0.9502,3.7e-3,610],
  [0.9483,3.25e-3,619],[0.9488,3.3e-3,610],[0.9493,3.2e-3,610],[0.9498,3.25e-3,619],[0.9503,3.3e-3,584],
  [0.9482,2.8e-3,610],[0.9487,2.75e-3,610],[0.9492,2.85e-3,619],[0.9497,2.8e-3,610],[0.9502,2.75e-3,598],
  [0.9483,2.42e-3,610],[0.9488,2.45e-3,619],[0.9493,2.4e-3,610],[0.9498,2.42e-3,610],[0.9503,2.45e-3,610],
  [0.9482,2.1e-3,619],[0.9487,2.08e-3,610],[0.9492,2.12e-3,610],[0.9497,2.1e-3,598],[0.9502,2.1e-3,610],
  [0.9483,1.82e-3,610],[0.9488,1.85e-3,610],[0.9493,1.8e-3,619],[0.9498,1.82e-3,610],[0.9503,1.84e-3,584],
  [0.9482,1.6e-3,610],[0.9487,1.58e-3,619],[0.9492,1.62e-3,610],[0.9497,1.6e-3,610],[0.9502,1.58e-3,610],
  [0.9483,1.4e-3,619],[0.9488,1.42e-3,610],[0.9493,1.38e-3,610],[0.9498,1.4e-3,619],[0.9503,1.41e-3,598],
  [0.9482,1.21e-3,610],[0.9487,1.2e-3,610],[0.9492,1.22e-3,619],[0.9497,1.21e-3,610],[0.9502,1.19e-3,610],
  [0.9483,1.04e-3,610],[0.9488,1.05e-3,619],[0.9493,1.03e-3,610],[0.9498,1.04e-3,610],[0.9503,1.05e-3,584],
  [0.9483,9.1e-4,619],[0.9488,9.0e-4,610],[0.9493,9.2e-4,610],[0.9498,9.1e-4,598],
  [0.9483,7.95e-4,610],[0.9488,8.0e-4,610],[0.9493,7.9e-4,619],[0.9498,7.95e-4,610],[0.9503,8.0e-4,610],
  [0.9483,6.9e-4,610],[0.9488,6.85e-4,619],[0.9493,6.95e-4,610],[0.9498,6.9e-4,610],
  [0.9483,6.0e-4,619],[0.9488,6.05e-4,610],[0.9493,5.95e-4,610],[0.9498,6.0e-4,619],[0.9503,6.0e-4,598],
  [0.9483,5.25e-4,610],[0.9488,5.2e-4,610],[0.9493,5.3e-4,619],[0.9498,5.25e-4,610],
  [0.9483,4.55e-4,610],[0.9488,4.6e-4,619],[0.9493,4.5e-4,610],[0.9498,4.55e-4,610],[0.9503,4.5e-4,610],
  [0.9483,3.95e-4,619],[0.9488,3.9e-4,610],[0.9493,4.0e-4,610],[0.9498,3.95e-4,598],
  [0.9483,3.45e-4,610],[0.9488,3.5e-4,610],[0.9493,3.4e-4,619],[0.9498,3.45e-4,610],[0.9503,3.45e-4,584],
  [0.9483,3.0e-4,610],[0.9488,2.97e-4,619],[0.9493,3.03e-4,610],[0.9498,3.0e-4,610],
  [0.9483,2.6e-4,619],[0.9488,2.62e-4,610],[0.9493,2.58e-4,610],[0.9498,2.6e-4,619],[0.9503,2.6e-4,610],
  [0.9483,2.25e-4,610],[0.9488,2.23e-4,610],[0.9493,2.27e-4,619],[0.9498,2.25e-4,610],
  [0.9483,1.95e-4,610],[0.9488,1.97e-4,619],[0.9493,1.93e-4,610],[0.9498,1.95e-4,610],[0.9503,1.95e-4,598],
  [0.9483,1.7e-4,619],[0.9488,1.68e-4,610],[0.9493,1.72e-4,610],[0.9498,1.7e-4,610],
  [0.9483,1.49e-4,610],[0.9488,1.5e-4,610],[0.9493,1.48e-4,619],[0.9498,1.49e-4,610],[0.9503,1.5e-4,610],
  [0.9483,1.29e-4,610],[0.9488,1.3e-4,619],[0.9493,1.28e-4,610],[0.9498,1.29e-4,598],
  [0.9484,1.12e-4,619],[0.9489,1.13e-4,610],[0.9494,1.11e-4,610],[0.9499,1.12e-4,610],[0.9503,1.12e-4,610],
  [0.9484,9.8e-5,610],[0.9489,9.7e-5,610],[0.9494,9.9e-5,619],[0.9499,9.8e-5,610],
  [0.9484,8.5e-5,610],[0.9489,8.6e-5,619],[0.9494,8.4e-5,610],[0.9499,8.5e-5,610],[0.9503,8.5e-5,584],
  [0.9484,7.4e-5,619],[0.9489,7.3e-5,610],[0.9494,7.5e-5,610],[0.9499,7.4e-5,610],
  [0.9484,6.45e-5,610],[0.9489,6.5e-5,610],[0.9494,6.4e-5,619],[0.9499,6.45e-5,598],[0.9503,6.45e-5,610],
  [0.9484,5.6e-5,610],[0.9489,5.55e-5,619],[0.9494,5.65e-5,610],[0.9499,5.6e-5,610],
  [0.9484,4.85e-5,619],[0.9489,4.9e-5,610],[0.9494,4.8e-5,610],[0.9499,4.85e-5,610],[0.9503,4.85e-5,610],
  [0.9484,4.2e-5,610],[0.9489,4.15e-5,610],[0.9494,4.25e-5,619],[0.9499,4.2e-5,610],
  [0.9484,3.65e-5,610],[0.9489,3.7e-5,619],[0.9494,3.6e-5,610],[0.9499,3.65e-5,610],[0.9503,3.65e-5,598],
  [0.9484,3.2e-5,619],[0.9489,3.18e-5,610],[0.9494,3.22e-5,610],[0.9499,3.2e-5,610],
  [0.9485,2.8e-5,610],[0.9490,2.82e-5,610],[0.9495,2.78e-5,619],[0.9500,2.8e-5,610],[0.9503,2.8e-5,610],
  [0.9485,2.42e-5,610],[0.9490,2.4e-5,619],[0.9495,2.44e-5,610],[0.9500,2.42e-5,610],
  [0.9485,2.1e-5,619],[0.9490,2.12e-5,610],[0.9495,2.08e-5,610],[0.9500,2.1e-5,598],[0.9503,2.1e-5,610],
  [0.9485,1.82e-5,610],[0.9490,1.8e-5,610],[0.9495,1.84e-5,619],[0.9500,1.82e-5,610],
  [0.9485,1.6e-5,610],[0.9490,1.61e-5,619],[0.9495,1.59e-5,610],[0.9500,1.6e-5,610],[0.9503,1.6e-5,610],
  [0.9485,1.4e-5,619],[0.9490,1.41e-5,610],[0.9495,1.39e-5,610],[0.9500,1.4e-5,619],
  [0.9486,1.21e-5,610],[0.9491,1.22e-5,610],[0.9496,1.2e-5,619],[0.9501,1.21e-5,610],
  [0.9486,1.08e-5,610],[0.9491,1.07e-5,619],[0.9496,1.09e-5,610],[0.9501,1.08e-5,610]
];

// axis ticks
const yMinor = [
  2e-5, 3e-5, 4e-5, 5e-5, 6e-5, 7e-5, 8e-5, 9e-5,
  2e-4, 3e-4, 4e-4, 5e-4, 6e-4, 7e-4, 8e-4, 9e-4,
  2e-3, 3e-3, 4e-3, 5e-3, 6e-3, 7e-3, 8e-3, 9e-3,
  2e-2, 3e-2, 4e-2, 5e-2, 6e-2, 7e-2, 8e-2, 9e-2,
  2e-1
];
const cbTicks = [480, 500, 520, 540, 560, 580, 600, 620];

// reversed jet colour map (value -> colour)
const cbStopValues = [480, 495, 518, 541, 561, 583, 597, 611, 623];
const cbStopColors = ["#800000", "#ff0000", "#ff8000", "#ffff00", "#80ff80", "#00ffff", "#0080ff", "#0000ff", "#000080"];

const M_MIN = 480;
const M_MAX = 623;
const X_MIN = 0.88;
const X_MAX = 0.97;
const Y_MIN = 1e-5;
const Y_MAX = 0.25;
const MINOR_LEN = 6;

function hexRgb(h) {
  return [parseInt(h.slice(1, 3), 16), parseInt(h.slice(3, 5), 16), parseInt(h.slice(5, 7), 16)];
}

function jetAt(v) {
  let i = 0;
  while (i < cbStopValues.length - 2 && v > cbStopValues[i + 1]) i++;
  const t = (v - cbStopValues[i]) / (cbStopValues[i + 1] - cbStopValues[i]);
  const a = hexRgb(cbStopColors[i]);
  const b = hexRgb(cbStopColors[i + 1]);
  const c = a.map((x, k) => Math.round(x + (b[k] - x) * Math.max(0, Math.min(1, t))));
  return `rgb(${c[0]},${c[1]},${c[2]})`;
}

const mapColors = [];
for (let v = M_MIN; v <= M_MAX; v++) mapColors.push(jetAt(v));

// draw order: mixed colours first, blue core on top
const allPts = [].concat(
  tailPts, archTop, archInner, colFringe, colOutliers, rightBranch, rightLobe, archEdge, archCore, colCore
);

const SANS = "DejaVu Sans";
const SERIF = "Liberation Serif";
const AXIS_LINE = { show: true, onZero: false, lineStyle: { color: "#000", width: 2 } };

function xAxisDef(pos, withLabels) {
  return {
    type: "value",
    gridIndex: 0,
    position: pos,
    min: X_MIN,
    max: X_MAX,
    interval: 0.01,
    axisLine: AXIS_LINE,
    axisTick: { show: true, inside: true, length: 12, lineStyle: { color: "#000", width: 1.5 } },
    minorTick: { show: true, splitNumber: 5, length: MINOR_LEN, lineStyle: { color: "#000", width: 1.2 } },
    axisLabel: {
      show: withLabels,
      formatter: (v) => v.toFixed(2),
      fontFamily: SANS,
      fontSize: 26,
      color: "#000",
      margin: 36,
    },
    splitLine: { show: false },
  };
}

function yAxisDef(pos, withLabels) {
  return {
    type: "log",
    logBase: 10,
    gridIndex: 0,
    position: pos,
    min: Y_MIN,
    max: Y_MAX,
    axisLine: AXIS_LINE,
    axisTick: { show: true, inside: true, length: 12, lineStyle: { color: "#000", width: 1.5 } },
    axisLabel: {
      show: withLabels,
      showMaxLabel: false,
      margin: 40,
      padding: [12, 0, 0, 0],
      formatter: (v) => `{b|10}{s|${Math.round(Math.log10(v))}}`,
      rich: {
        b: { fontFamily: SANS, fontSize: 27, color: "#000" },
        s: { fontFamily: SANS, fontSize: 20, color: "#000", verticalAlign: "top" },
      },
    },
    splitLine: { show: false },
  };
}

// short inward ticks at 2..9 x 10^n on both y sides, placed through the log axis
function renderMinorTick(params, api) {
  const p = api.coord([X_MIN, api.value(1)]);
  const cs = params.coordSys;
  const style = { stroke: "#000", lineWidth: 1.2 };
  return {
    type: "group",
    children: [
      { type: "line", shape: { x1: cs.x, y1: p[1], x2: cs.x + MINOR_LEN, y2: p[1] }, style },
      { type: "line", shape: { x1: cs.x + cs.width, y1: p[1], x2: cs.x + cs.width - MINOR_LEN, y2: p[1] }, style },
    ],
  };
}

const chart = echarts.init(document.getElementById("chart"), null, { renderer: "canvas" });

chart.setOption({
  backgroundColor: "#fff",
  animation: false,
  grid: [
    { left: 185, right: 251, top: 63, bottom: 159 },
    { left: 998, top: 61, width: 34, height: 680, show: true, z: 10, borderColor: "#222", borderWidth: 1.5, backgroundColor: "transparent" },
  ],
  xAxis: [
    xAxisDef("bottom", true),
    xAxisDef("top", false),
    { type: "value", gridIndex: 1, show: false, min: 0, max: 1 },
  ],
  yAxis: [
    yAxisDef("left", true),
    yAxisDef("right", false),
    {
      type: "value",
      gridIndex: 1,
      position: "right",
      min: M_MIN,
      max: M_MAX,
      interval: 20,
      z: 10,
      axisLine: { show: false },
      axisTick: { show: true, inside: true, length: 4, customValues: cbTicks, lineStyle: { color: "#000", width: 1.2 } },
      axisLabel: { customValues: cbTicks, fontFamily: SANS, fontSize: 21, color: "#000", margin: 30 },
      splitLine: { show: false },
    },
  ],
  visualMap: {
    type: "continuous",
    seriesIndex: 0,
    dimension: 2,
    min: M_MIN,
    max: M_MAX,
    orient: "vertical",
    left: 998,
    top: 61,
    itemWidth: 34,
    itemHeight: 680,
    padding: 0,
    calculable: false,
    hoverLink: false,
    inRange: { color: mapColors },
  },
  series: [
    {
      type: "scatter",
      xAxisIndex: 0,
      yAxisIndex: 0,
      symbol: "circle",
      symbolSize: 5.5,
      progressive: 0,
      data: allPts,
      encode: { x: 0, y: 1 },
    },
    {
      type: "custom",
      coordinateSystem: "cartesian2d",
      xAxisIndex: 0,
      yAxisIndex: 0,
      silent: true,
      clip: false,
      z: 5,
      data: yMinor.map((v) => [X_MIN, v]),
      encode: { x: 0, y: 1 },
      renderItem: renderMinorTick,
    },
  ],
  graphic: [
    {
      type: "text",
      x: 564,
      y: 42,
      style: {
        text: "{a|2HDM Type II, }{m|m}{s|H}{r| =125.5 GeV}",
        align: "center",
        verticalAlign: "middle",
        rich: {
          a: { fontFamily: SANS, fontSize: 28, fill: "#000", lineHeight: 36 },
          m: { fontFamily: SERIF, fontStyle: "italic", fontSize: 31, fill: "#000", lineHeight: 36 },
          s: { fontFamily: SERIF, fontStyle: "italic", fontSize: 22, fill: "#000", verticalAlign: "bottom", lineHeight: 16 },
          r: { fontFamily: SERIF, fontSize: 31, fill: "#000", lineHeight: 36 },
        },
      },
    },
    {
      type: "text",
      x: 545,
      y: 831,
      style: { text: "C", fontFamily: SERIF, fontStyle: "italic", fontSize: 46, fill: "#000", align: "center", verticalAlign: "middle" },
    },
    {
      type: "text",
      x: 578,
      y: 811,
      style: { text: "H", fontFamily: SERIF, fontStyle: "italic", fontSize: 27, fill: "#000", align: "center", verticalAlign: "middle" },
    },
    {
      type: "text",
      x: 572,
      y: 852,
      style: { text: "γ", fontFamily: SERIF, fontStyle: "italic", fontSize: 29, fill: "#000", align: "center", verticalAlign: "middle" },
    },
    {
      type: "text",
      x: 55,
      y: 402,
      rotation: Math.PI / 2,
      style: {
        text: "{r||sin(}{i|β}{r|−}{i|α}{r|)|}",
        align: "center",
        verticalAlign: "middle",
        rich: {
          r: { fontFamily: SERIF, fontSize: 44, fill: "#000" },
          i: { fontFamily: SERIF, fontStyle: "italic", fontSize: 44, fill: "#000" },
        },
      },
    },
    {
      type: "text",
      x: 1140,
      y: 403,
      rotation: Math.PI / 2,
      style: {
        text: "{i|m}{s|H}{p|±}{r| [GeV]}",
        align: "center",
        verticalAlign: "middle",
        rich: {
          i: { fontFamily: SERIF, fontStyle: "italic", fontSize: 42, fill: "#000", lineHeight: 50 },
          s: { fontFamily: SERIF, fontStyle: "italic", fontSize: 26, fill: "#000", verticalAlign: "bottom", lineHeight: 24 },
          p: { fontFamily: SERIF, fontSize: 20, fill: "#000", verticalAlign: "bottom", lineHeight: 40 },
          r: { fontFamily: SERIF, fontSize: 42, fill: "#000", lineHeight: 50 },
        },
      },
    },
  ],
});
</script>
</body>
</html>
